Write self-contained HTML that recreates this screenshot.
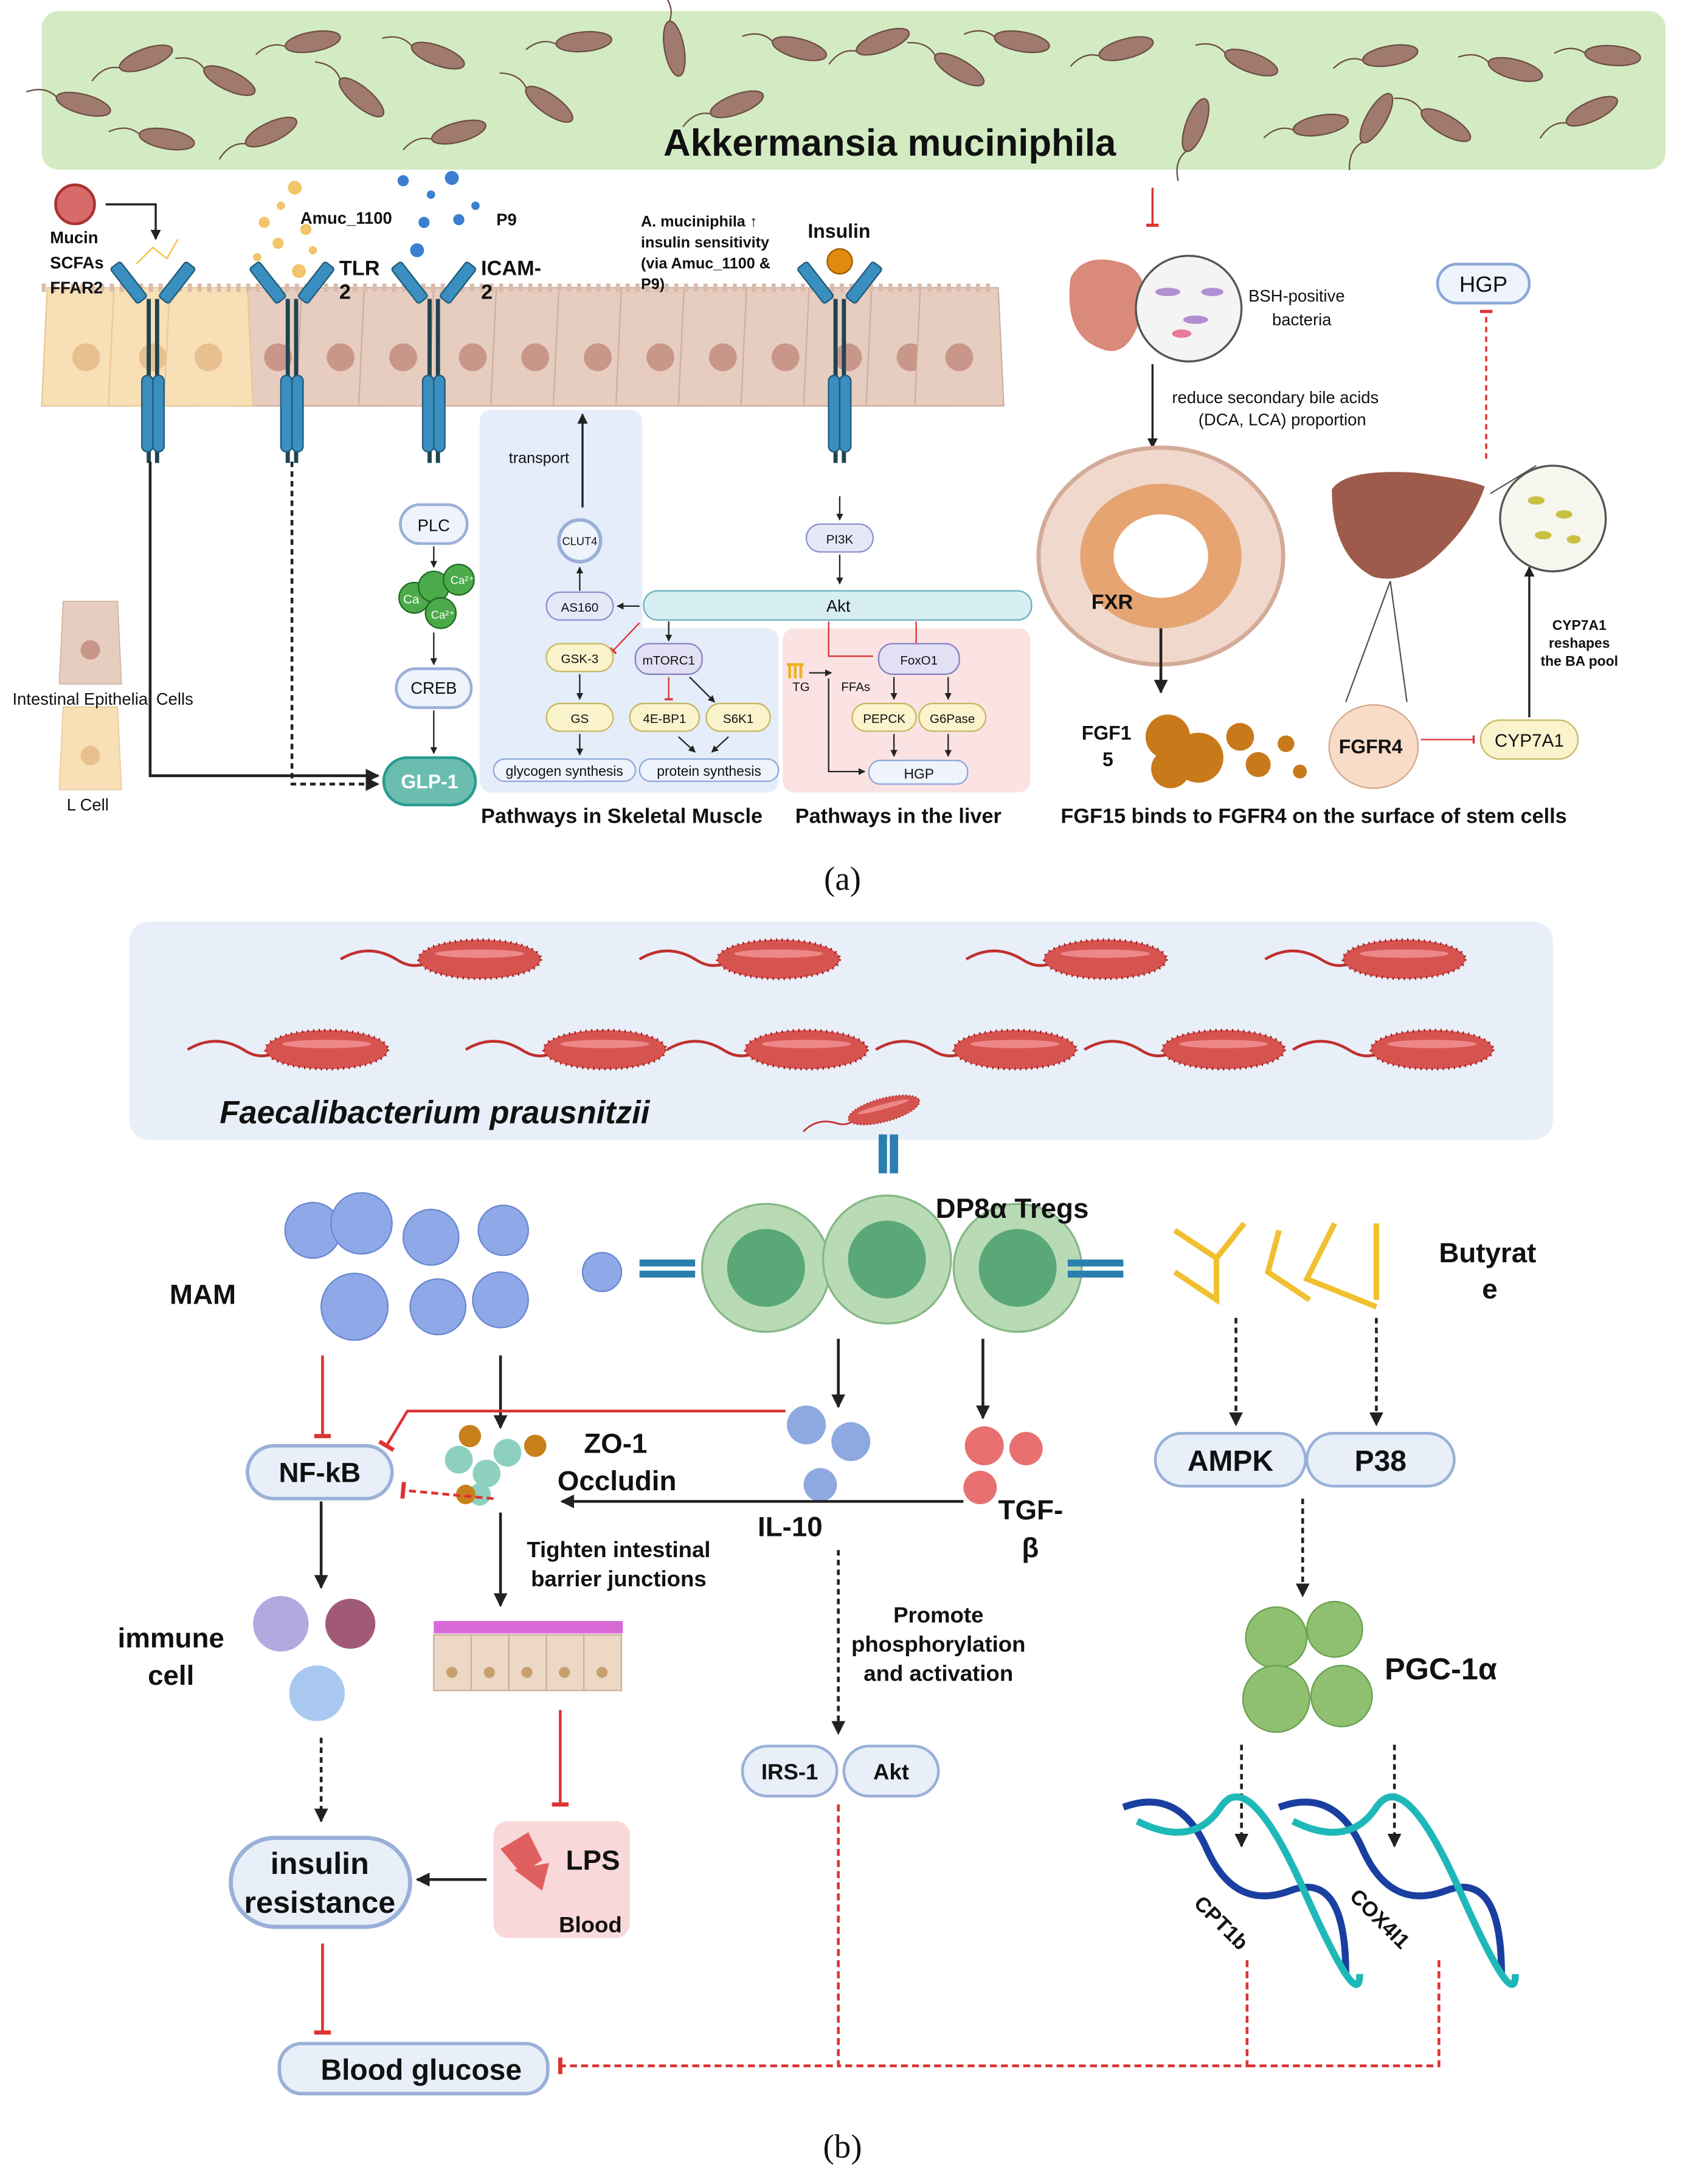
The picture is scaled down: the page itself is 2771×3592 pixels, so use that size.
<!DOCTYPE html>
<html><head><meta charset="utf-8"><style>
html,body{margin:0;padding:0;background:#fff}
svg{display:block}
text{font-family:"Liberation Sans",Arial,sans-serif;fill:#111}
.b{font-weight:bold}
</style></head><body>
<svg width="2771" height="3592" viewBox="0 0 1212 1571" preserveAspectRatio="none" xmlns="http://www.w3.org/2000/svg">
<defs>
<marker id="ar" viewBox="0 0 10 10" refX="9" refY="5" markerWidth="5" markerHeight="5" orient="auto"><path d="M0,0L10,5L0,10z" fill="#222"/></marker>
<marker id="tb" viewBox="0 0 10 10" refX="5" refY="5" markerWidth="6" markerHeight="6" orient="auto"><path d="M5,0V10" stroke="#d33" stroke-width="2.5"/></marker>
<g id="rec">
<rect x="-22" y="-18" width="9" height="32" rx="2" fill="#3a8fc0" stroke="#1f5a7a" stroke-width="1" transform="rotate(-38 -17 -2)"/>
<rect x="13" y="-18" width="9" height="32" rx="2" fill="#3a8fc0" stroke="#1f5a7a" stroke-width="1" transform="rotate(38 17 -2)"/>
<line x1="-3" y1="10" x2="-3" y2="128" stroke="#1f4550" stroke-width="3"/>
<line x1="3" y1="10" x2="3" y2="128" stroke="#1f4550" stroke-width="3"/>
<rect x="-8" y="65" width="8" height="55" rx="4" fill="#3a8fc0" stroke="#1f5a7a"/>
<rect x="0" y="65" width="8" height="55" rx="4" fill="#3a8fc0" stroke="#1f5a7a"/>
</g>
<g id="bac"><ellipse cx="0" cy="0" rx="20" ry="7" fill="#a07a6e" stroke="#6e4e44"/><path d="M-20,0 q-10,-6 -22,2" stroke="#6e4e44" fill="none"/></g>
<g id="rb"><path d="M-90,0 q20,-12 40,0 q15,10 28,-2" stroke="#c0302e" stroke-width="2" fill="none"/><ellipse cx="10" cy="0" rx="44" ry="14" fill="#d9534f" stroke="#a02020" stroke-width="2" stroke-dasharray="1 3"/><ellipse cx="10" cy="0" rx="42" ry="12" fill="#d65450"/><ellipse cx="10" cy="-4" rx="32" ry="3" fill="#e88"/></g>
<g id="cell"><path d="M-32,0 L-28,-85 L28,-85 L32,0 Z" fill="#e7cdbf" stroke="#cdb0a0"/><circle cx="0" cy="-35" r="10" fill="#c9968a"/></g>
<g id="cellY"><path d="M-32,0 L-28,-85 L28,-85 L32,0 Z" fill="#f8dfb6" stroke="#e8c898"/><circle cx="0" cy="-35" r="10" fill="#e8c090"/></g>
</defs>

<!-- ===== PART A ===== -->
<rect x="30" y="8" width="1168" height="114" rx="12" fill="#d3ebc3"/>
<g>
<use href="#bac" transform="translate(105,42) rotate(-20)"/><use href="#bac" transform="translate(165,58) rotate(25)"/><use href="#bac" transform="translate(225,30) rotate(-10)"/>
<use href="#bac" transform="translate(260,70) rotate(40)"/><use href="#bac" transform="translate(120,100) rotate(10)"/><use href="#bac" transform="translate(195,95) rotate(-25)"/>
<use href="#bac" transform="translate(315,40) rotate(20)"/><use href="#bac" transform="translate(330,95) rotate(-15)"/><use href="#bac" transform="translate(395,75) rotate(35)"/>
<use href="#bac" transform="translate(420,30) rotate(-5)"/><use href="#bac" transform="translate(485,35) rotate(80)"/><use href="#bac" transform="translate(530,75) rotate(-20)"/>
<use href="#bac" transform="translate(575,35) rotate(15)"/><use href="#bac" transform="translate(635,30) rotate(-20)"/><use href="#bac" transform="translate(690,50) rotate(30)"/>
<use href="#bac" transform="translate(735,30) rotate(10)"/><use href="#bac" transform="translate(810,35) rotate(-15)"/><use href="#bac" transform="translate(860,90) rotate(-70)"/>
<use href="#bac" transform="translate(900,45) rotate(20)"/><use href="#bac" transform="translate(950,90) rotate(-10)"/><use href="#bac" transform="translate(1000,40) rotate(-10)"/>
<use href="#bac" transform="translate(990,85) rotate(-60)"/><use href="#bac" transform="translate(1040,90) rotate(30)"/><use href="#bac" transform="translate(1090,50) rotate(15)"/>
<use href="#bac" transform="translate(1145,80) rotate(-25)"/><use href="#bac" transform="translate(1160,40) rotate(5)"/><use href="#bac" transform="translate(60,75) rotate(15)"/>
</g>
<text x="640" y="112" text-anchor="middle" class="b" font-size="27">Akkermansia muciniphila</text>

<!-- epithelium -->
<g>
<use href="#cell" transform="translate(200,292)"/><use href="#cell" transform="translate(245,292)"/><use href="#cell" transform="translate(290,292)"/><use href="#cell" transform="translate(340,292)"/><use href="#cell" transform="translate(385,292)"/><use href="#cell" transform="translate(430,292)"/><use href="#cell" transform="translate(475,292)"/><use href="#cell" transform="translate(520,292)"/><use href="#cell" transform="translate(565,292)"/><use href="#cell" transform="translate(610,292)"/><use href="#cell" transform="translate(655,292)"/><use href="#cell" transform="translate(690,292)"/>
<use href="#cellY" transform="translate(62,292)"/><use href="#cellY" transform="translate(110,292)"/><use href="#cellY" transform="translate(150,292)"/>
<path d="M30,207 H715" stroke="#d9bcaa" stroke-width="6" stroke-dasharray="3 4"/>
</g>
<use href="#rec" transform="translate(110,205)"/>
<use href="#rec" transform="translate(210,205)"/>
<use href="#rec" transform="translate(312,205)"/>
<use href="#rec" transform="translate(604,205)"/>
<circle cx="54" cy="147" r="14" fill="#d96a6a" stroke="#a33" stroke-width="2"/>
<path d="M76,147 H112 V172" stroke="#222" stroke-width="1.5" fill="none" marker-end="url(#ar)"/>
<text x="36" y="175" font-size="12" class="b">Mucin</text>
<text x="36" y="193" font-size="12" class="b">SCFAs</text>
<text x="36" y="211" font-size="12" class="b">FFAR2</text>
<path d="M98,190 l12,-12 l10,8 l8,-14" stroke="#f0c040" fill="none"/>
<g fill="#f2c56a"><circle cx="190" cy="160" r="4"/><circle cx="202" cy="148" r="3"/><circle cx="212" cy="135" r="5"/><circle cx="200" cy="175" r="4"/><circle cx="220" cy="165" r="4"/><circle cx="185" cy="185" r="3"/><circle cx="215" cy="195" r="5"/><circle cx="225" cy="180" r="3"/></g>
<g fill="#3a7fd0"><circle cx="290" cy="130" r="4"/><circle cx="310" cy="140" r="3"/><circle cx="325" cy="128" r="5"/><circle cx="305" cy="160" r="4"/><circle cx="330" cy="158" r="4"/><circle cx="300" cy="180" r="5"/><circle cx="342" cy="148" r="3"/></g>
<text x="216" y="161" font-size="12" class="b">Amuc_1100</text>
<text x="357" y="162" font-size="12" class="b">P9</text>
<text x="244" y="198" font-size="15" class="b">TLR</text><text x="244" y="215" font-size="15" class="b">2</text>
<text x="346" y="198" font-size="15" class="b">ICAM-</text><text x="346" y="215" font-size="15" class="b">2</text>
<text x="461" y="163" font-size="11" class="b">A.  muciniphila  ↑</text>
<text x="461" y="178" font-size="11" class="b">insulin  sensitivity</text>
<text x="461" y="193" font-size="11" class="b">(via Amuc_1100 &amp;</text>
<text x="461" y="208" font-size="11" class="b">P9)</text>
<text x="581" y="171" font-size="14" class="b">Insulin</text>
<circle cx="604" cy="188" r="9" fill="#e08a10" stroke="#a05a00"/>

<!-- left side cells legend -->
<use href="#cell" transform="translate(65,492) scale(0.7)"/>
<use href="#cellY" transform="translate(65,568) scale(0.7)"/>
<text x="9" y="507" font-size="12">Intestinal Epithelial Cells</text>
<text x="48" y="583" font-size="12">L Cell</text>

<path d="M108,332 V558 H272" stroke="#222" stroke-width="2" fill="none" marker-end="url(#ar)"/>
<path d="M210,332 V564 H272" stroke="#222" stroke-width="2" stroke-dasharray="4 3" fill="none" marker-end="url(#ar)"/>

<!-- PLC chain -->
<rect x="288" y="363" width="48" height="28" rx="14" fill="#eef3fc" stroke="#9ab0d8" stroke-width="2"/>
<text x="312" y="382" text-anchor="middle" font-size="12">PLC</text>
<line x1="312" y1="393" x2="312" y2="408" stroke="#222" marker-end="url(#ar)"/>
<g fill="#4caa4a" stroke="#1e6e20"><circle cx="298" cy="430" r="11"/><circle cx="312" cy="422" r="11"/><circle cx="330" cy="417" r="11"/><circle cx="317" cy="441" r="11"/></g>
<text x="290" y="434" font-size="9" fill="#fff" style="fill:#fff">Ca</text><text x="324" y="420" font-size="8" style="fill:#fff">Ca²⁺</text><text x="310" y="445" font-size="8" style="fill:#fff">Ca²⁺</text>
<line x1="312" y1="455" x2="312" y2="478" stroke="#222" marker-end="url(#ar)"/>
<rect x="285" y="481" width="54" height="28" rx="14" fill="#eef3fc" stroke="#9ab0d8" stroke-width="2"/>
<text x="312" y="499" text-anchor="middle" font-size="12">CREB</text>
<line x1="312" y1="511" x2="312" y2="542" stroke="#222" marker-end="url(#ar)"/>
<rect x="276" y="545" width="66" height="34" rx="17" fill="#6bbdb0" stroke="#2a9a90" stroke-width="2"/>
<text x="309" y="567" text-anchor="middle" font-size="14" class="b" style="fill:#fff">GLP-1</text>

<!-- muscle panel -->
<rect x="345" y="295" width="117" height="275" rx="8" fill="#e4edf9"/>
<rect x="345" y="452" width="215" height="118" rx="8" fill="#e4edf9"/>
<rect x="563" y="452" width="178" height="118" rx="8" fill="#fbe3e3"/>
<line x1="419" y1="365" x2="419" y2="298" stroke="#222" stroke-width="1.5" marker-end="url(#ar)"/>
<text x="366" y="333" font-size="11">transport</text>
<circle cx="417" cy="389" r="15" fill="#eef3fc" stroke="#9ab0d8" stroke-width="2.5"/>
<text x="417" y="392" text-anchor="middle" font-size="8">CLUT4</text>
<line x1="417" y1="425" x2="417" y2="408" stroke="#222" marker-end="url(#ar)"/>
<rect x="393" y="426" width="48" height="20" rx="10" fill="#e6e8f8" stroke="#8c90d0"/>
<text x="417" y="440" text-anchor="middle" font-size="9">AS160</text>
<line x1="460" y1="436" x2="444" y2="436" stroke="#222" marker-end="url(#ar)"/>
<rect x="463" y="425" width="279" height="21" rx="10" fill="#d6eef2" stroke="#6ab0c0"/>
<text x="603" y="440" text-anchor="middle" font-size="12">Akt</text>
<rect x="580" y="377" width="48" height="20" rx="10" fill="#e6e8f8" stroke="#8c90d0"/>
<text x="604" y="391" text-anchor="middle" font-size="9">PI3K</text>
<line x1="604" y1="357" x2="604" y2="374" stroke="#222" marker-end="url(#ar)"/>
<line x1="604" y1="399" x2="604" y2="420" stroke="#222" marker-end="url(#ar)"/>
<path d="M460,448 L441,468" stroke="#d33" marker-end="url(#tb)"/>
<rect x="393" y="463" width="48" height="20" rx="10" fill="#faf3cc" stroke="#c8b860"/><text x="417" y="477" text-anchor="middle" font-size="9">GSK-3</text>
<line x1="417" y1="485" x2="417" y2="503" stroke="#222" marker-end="url(#ar)"/>
<rect x="393" y="506" width="48" height="20" rx="10" fill="#faf3cc" stroke="#c8b860"/><text x="417" y="520" text-anchor="middle" font-size="9">GS</text>
<line x1="417" y1="528" x2="417" y2="543" stroke="#222" marker-end="url(#ar)"/>
<rect x="355" y="546" width="102" height="16" rx="8" fill="#eef3fc" stroke="#8ca8d8"/><text x="406" y="558" text-anchor="middle" font-size="10">glycogen synthesis</text>
<line x1="481" y1="447" x2="481" y2="461" stroke="#222" marker-end="url(#ar)"/>
<rect x="457" y="463" width="48" height="22" rx="10" fill="#e2e0f4" stroke="#8880c0"/><text x="481" y="478" text-anchor="middle" font-size="9">mTORC1</text>
<line x1="481" y1="487" x2="481" y2="503" stroke="#d33" marker-end="url(#tb)"/>
<line x1="496" y1="487" x2="514" y2="505" stroke="#222" marker-end="url(#ar)"/>
<rect x="453" y="506" width="50" height="20" rx="10" fill="#faf3cc" stroke="#c8b860"/><text x="478" y="520" text-anchor="middle" font-size="9">4E-BP1</text>
<rect x="508" y="506" width="46" height="20" rx="10" fill="#faf3cc" stroke="#c8b860"/><text x="531" y="520" text-anchor="middle" font-size="9">S6K1</text>
<line x1="488" y1="530" x2="500" y2="541" stroke="#222" marker-end="url(#ar)"/><line x1="524" y1="530" x2="512" y2="541" stroke="#222" marker-end="url(#ar)"/>
<rect x="460" y="546" width="100" height="16" rx="8" fill="#eef3fc" stroke="#8ca8d8"/><text x="510" y="558" text-anchor="middle" font-size="10">protein synthesis</text>
<path d="M596,447 V472 H628" stroke="#d33" fill="none"/><path d="M659,447 V466" stroke="#d33" marker-end="url(#tb)"/>
<rect x="632" y="463" width="58" height="22" rx="10" fill="#e2e0f4" stroke="#8880c0"/><text x="661" y="478" text-anchor="middle" font-size="9">FoxO1</text>
<text x="570" y="497" font-size="9">TG</text><text x="605" y="497" font-size="9">FFAs</text>
<path d="M566,478 h12 M568,478 v10 M572,478 v10 M576,478 v10" stroke="#f0b020" stroke-width="2"/>
<line x1="582" y1="484" x2="598" y2="484" stroke="#222" marker-end="url(#ar)"/>
<line x1="643" y1="487" x2="643" y2="503" stroke="#222" marker-end="url(#ar)"/><line x1="682" y1="487" x2="682" y2="503" stroke="#222" marker-end="url(#ar)"/>
<rect x="613" y="506" width="46" height="20" rx="10" fill="#faf3cc" stroke="#c8b860"/><text x="636" y="520" text-anchor="middle" font-size="9">PEPCK</text>
<rect x="661" y="506" width="48" height="20" rx="10" fill="#faf3cc" stroke="#c8b860"/><text x="685" y="520" text-anchor="middle" font-size="9">G6Pase</text>
<path d="M596,488 V555 H622" stroke="#222" fill="none" marker-end="url(#ar)"/>
<line x1="643" y1="528" x2="643" y2="544" stroke="#222" marker-end="url(#ar)"/><line x1="682" y1="528" x2="682" y2="544" stroke="#222" marker-end="url(#ar)"/>
<rect x="625" y="547" width="71" height="17" rx="8" fill="#eef3fc" stroke="#8ca8d8"/><text x="661" y="560" text-anchor="middle" font-size="10">HGP</text>
<text x="346" y="592" font-size="15" class="b">Pathways in Skeletal Muscle</text>
<text x="572" y="592" font-size="15" class="b">Pathways in the liver</text>

<!-- right part a -->
<line x1="829" y1="135" x2="829" y2="162" stroke="#d33" stroke-width="1.5" marker-end="url(#tb)"/>
<path d="M770,200 q10,-20 40,-10 q20,10 10,40 q-10,30 -30,20 q-25,-10 -20,-50z" fill="#d98a7a"/>
<circle cx="855" cy="222" r="38" fill="#f4f4f4" stroke="#555" stroke-width="1.5"/>
<g fill="#b090d0"><ellipse cx="840" cy="210" rx="9" ry="3"/><ellipse cx="860" cy="230" rx="9" ry="3"/><ellipse cx="850" cy="240" rx="7" ry="3" fill="#e87a9a"/><ellipse cx="872" cy="210" rx="8" ry="3"/></g>
<text x="898" y="217" font-size="12">BSH-positive</text><text x="915" y="234" font-size="12">bacteria</text>
<line x1="829" y1="262" x2="829" y2="322" stroke="#222" stroke-width="1.5" marker-end="url(#ar)"/>
<text x="843" y="290" font-size="12">reduce secondary bile acids</text><text x="862" y="306" font-size="12">(DCA, LCA) proportion</text>
<ellipse cx="835" cy="400" rx="88" ry="78" fill="#f0d8cc" stroke="#d4aa98" stroke-width="3"/>
<ellipse cx="835" cy="400" rx="58" ry="52" fill="#e5a472"/>
<ellipse cx="835" cy="400" rx="34" ry="30" fill="#fff"/>
<text x="785" y="438" font-size="15" class="b">FXR</text>
<line x1="835" y1="452" x2="835" y2="498" stroke="#222" stroke-width="2" marker-end="url(#ar)"/>
<text x="778" y="532" font-size="14" class="b">FGF1</text><text x="793" y="551" font-size="14" class="b">5</text>
<g fill="#c87a1a"><circle cx="840" cy="530" r="16"/><circle cx="862" cy="545" r="18"/><circle cx="842" cy="553" r="14"/><circle cx="892" cy="530" r="10"/><circle cx="905" cy="550" r="9"/><circle cx="925" cy="535" r="6"/><circle cx="935" cy="555" r="5"/></g>
<ellipse cx="988" cy="537" rx="32" ry="30" fill="#f8dcc8" stroke="#d4a88c"/>
<text x="963" y="542" font-size="14" class="b">FGFR4</text>
<path d="M1022,532 H1060" stroke="#d33" marker-end="url(#tb)"/>
<rect x="1065" y="518" width="70" height="28" rx="14" fill="#faf3cc" stroke="#c8b860"/><text x="1100" y="537" text-anchor="middle" font-size="13">CYP7A1</text>
<line x1="1100" y1="516" x2="1100" y2="408" stroke="#222" stroke-width="1.5" marker-end="url(#ar)"/>
<text x="1136" y="453" text-anchor="middle" font-size="10" class="b">CYP7A1</text><text x="1136" y="466" text-anchor="middle" font-size="10" class="b">reshapes</text><text x="1136" y="479" text-anchor="middle" font-size="10" class="b">the BA pool</text>
<path d="M958,352 q10,-15 60,-12 q40,5 50,10 q-10,30 -40,55 q-20,15 -40,10 q-30,-15 -30,-63z" fill="#9e5a4a"/>
<line x1="1000" y1="418" x2="968" y2="505" stroke="#555"/><line x1="1000" y1="418" x2="1012" y2="505" stroke="#555"/>
<circle cx="1117" cy="373" r="38" fill="#f6f6ee" stroke="#555" stroke-width="1.5"/>
<g fill="#c8c040"><ellipse cx="1105" cy="360" rx="6" ry="3"/><ellipse cx="1125" cy="370" rx="6" ry="3"/><ellipse cx="1110" cy="385" rx="6" ry="3"/><ellipse cx="1132" cy="388" rx="5" ry="3"/></g>
<line x1="1072" y1="355" x2="1105" y2="335" stroke="#555"/>
<rect x="1034" y="190" width="66" height="28" rx="14" fill="#eef3fc" stroke="#8ca8d8" stroke-width="2"/>
<text x="1067" y="210" text-anchor="middle" font-size="16">HGP</text>
<line x1="1069" y1="330" x2="1069" y2="224" stroke="#d33" stroke-width="1.5" stroke-dasharray="4 3" marker-end="url(#tb)"/>
<text x="945" y="592" text-anchor="middle" font-size="15" class="b">FGF15 binds to FGFR4 on the surface of stem cells</text>
<text x="606" y="640" text-anchor="middle" font-size="24" font-family="Liberation Serif" style="font-family:'Liberation Serif',serif">(a)</text>

<!-- ===== PART B ===== -->
<rect x="93" y="663" width="1024" height="157" rx="14" fill="#e8eff9"/>
<use href="#rb" transform="translate(335,690)"/><use href="#rb" transform="translate(550,690)"/><use href="#rb" transform="translate(785,690)"/><use href="#rb" transform="translate(1000,690)"/>
<use href="#rb" transform="translate(225,755)"/><use href="#rb" transform="translate(425,755)"/><use href="#rb" transform="translate(570,755)"/><use href="#rb" transform="translate(720,755)"/><use href="#rb" transform="translate(870,755)"/><use href="#rb" transform="translate(1020,755)"/>
<use href="#rb" transform="translate(630,800) scale(0.6) rotate(-15)"/>
<text x="158" y="808" font-size="23" class="b" font-style="italic">Faecalibacterium prausnitzii</text>
<rect x="632" y="816" width="6" height="28" fill="#2a7fb0"/><rect x="640" y="816" width="6" height="28" fill="#2a7fb0"/>

<circle cx="551" cy="912" r="46" fill="#b8dbb6" stroke="#88b888" stroke-width="1.5"/><circle cx="551" cy="912" r="28" fill="#5aa877"/>
<circle cx="638" cy="906" r="46" fill="#b8dbb6" stroke="#88b888" stroke-width="1.5"/><circle cx="638" cy="906" r="28" fill="#5aa877"/>
<circle cx="732" cy="912" r="46" fill="#b8dbb6" stroke="#88b888" stroke-width="1.5"/><circle cx="732" cy="912" r="28" fill="#5aa877"/>
<text x="673" y="876" font-size="20" class="b">DP8α Tregs</text>
<g fill="#2a7fb0"><rect x="460" y="906" width="40" height="5"/><rect x="460" y="914" width="40" height="5"/><rect x="768" y="906" width="40" height="5"/><rect x="768" y="914" width="40" height="5"/></g>
<g fill="#8ea8e8" stroke="#6a88d0"><circle cx="225" cy="885" r="20"/><circle cx="260" cy="880" r="22"/><circle cx="310" cy="890" r="20"/><circle cx="362" cy="885" r="18"/><circle cx="255" cy="940" r="24"/><circle cx="315" cy="940" r="20"/><circle cx="360" cy="935" r="20"/><circle cx="433" cy="915" r="14"/></g>
<text x="122" y="938" font-size="20" class="b">MAM</text>
<g stroke="#f0c030" stroke-width="4" fill="none"><path d="M845,885 l30,20 l20,-25 M875,905 l0,30 l-30,-20"/><path d="M920,885 l-8,30 l30,20 M960,880 l-20,40 l50,20 M990,880 l0,55"/></g>
<text x="1035" y="908" font-size="20" class="b">Butyrat</text><text x="1066" y="934" font-size="20" class="b">e</text>

<line x1="232" y1="975" x2="232" y2="1033" stroke="#d33" stroke-width="2" marker-end="url(#tb)"/>
<line x1="360" y1="975" x2="360" y2="1027" stroke="#222" stroke-width="2" marker-end="url(#ar)"/>
<path d="M565,1015 H293 L278,1040" stroke="#d33" stroke-width="2" fill="none" marker-end="url(#tb)"/>
<rect x="178" y="1040" width="104" height="38" rx="19" fill="#e8eff9" stroke="#9ab0d8" stroke-width="2.5"/>
<text x="230" y="1066" text-anchor="middle" font-size="20" class="b">NF-kB</text>
<g fill="#8ed0c0"><circle cx="330" cy="1050" r="10"/><circle cx="350" cy="1060" r="10"/><circle cx="365" cy="1045" r="10"/><circle cx="345" cy="1075" r="8"/></g>
<g fill="#c8801a"><circle cx="338" cy="1033" r="8"/><circle cx="385" cy="1040" r="8"/><circle cx="335" cy="1075" r="7"/></g>
<text x="420" y="1045" font-size="20" class="b">ZO-1</text><text x="401" y="1072" font-size="20" class="b">Occludin</text>
<line x1="603" y1="963" x2="603" y2="1012" stroke="#222" stroke-width="2" marker-end="url(#ar)"/>
<line x1="707" y1="963" x2="707" y2="1020" stroke="#222" stroke-width="2" marker-end="url(#ar)"/>
<g fill="#8ea8e0"><circle cx="580" cy="1025" r="14"/><circle cx="612" cy="1037" r="14"/><circle cx="590" cy="1068" r="12"/></g>
<g fill="#e87070"><circle cx="708" cy="1040" r="14"/><circle cx="738" cy="1042" r="12"/><circle cx="705" cy="1070" r="12"/></g>
<line x1="693" y1="1080" x2="404" y2="1080" stroke="#222" stroke-width="2" marker-end="url(#ar)"/>
<text x="545" y="1105" font-size="20" class="b">IL-10</text>
<text x="718" y="1093" font-size="20" class="b">TGF-</text><text x="735" y="1120" font-size="20" class="b">β</text>
<text x="445" y="1120" text-anchor="middle" font-size="16" class="b">Tighten intestinal</text><text x="445" y="1141" text-anchor="middle" font-size="16" class="b">barrier junctions</text>
<line x1="360" y1="1088" x2="360" y2="1155" stroke="#222" stroke-width="2" marker-end="url(#ar)"/>
<path d="M355,1078 L290,1072" stroke="#d33" stroke-width="2" stroke-dasharray="5 3" marker-end="url(#tb)"/>
<rect x="312" y="1166" width="136" height="9" fill="#d86ad8"/>
<g fill="#ecd8c4" stroke="#cdb098"><rect x="312" y="1176" width="27" height="40"/><rect x="339" y="1176" width="27" height="40"/><rect x="366" y="1176" width="27" height="40"/><rect x="393" y="1176" width="27" height="40"/><rect x="420" y="1176" width="27" height="40"/></g>
<g fill="#c8a070"><circle cx="325" cy="1203" r="4"/><circle cx="352" cy="1203" r="4"/><circle cx="379" cy="1203" r="4"/><circle cx="406" cy="1203" r="4"/><circle cx="433" cy="1203" r="4"/></g>
<line x1="231" y1="1080" x2="231" y2="1142" stroke="#222" stroke-width="2" marker-end="url(#ar)"/>
<circle cx="202" cy="1168" r="20" fill="#b4a8e0"/><circle cx="252" cy="1168" r="18" fill="#a05a78"/><circle cx="228" cy="1218" r="20" fill="#a8c8f0"/>
<text x="123" y="1185" text-anchor="middle" font-size="20" class="b">immune</text><text x="123" y="1212" text-anchor="middle" font-size="20" class="b">cell</text>
<line x1="231" y1="1250" x2="231" y2="1310" stroke="#222" stroke-width="2" stroke-dasharray="4 3" marker-end="url(#ar)"/>
<line x1="603" y1="1115" x2="603" y2="1247" stroke="#222" stroke-width="2" stroke-dasharray="4 3" marker-end="url(#ar)"/>
<text x="675" y="1167" text-anchor="middle" font-size="16" class="b">Promote</text><text x="675" y="1188" text-anchor="middle" font-size="16" class="b">phosphorylation</text><text x="675" y="1209" text-anchor="middle" font-size="16" class="b">and activation</text>
<rect x="534" y="1256" width="68" height="36" rx="18" fill="#e8eff9" stroke="#9ab0d8" stroke-width="2"/><text x="568" y="1280" text-anchor="middle" font-size="16" class="b">IRS-1</text>
<rect x="607" y="1256" width="68" height="36" rx="18" fill="#e8eff9" stroke="#9ab0d8" stroke-width="2"/><text x="641" y="1280" text-anchor="middle" font-size="16" class="b">Akt</text>
<line x1="403" y1="1230" x2="403" y2="1298" stroke="#d33" stroke-width="2" marker-end="url(#tb)"/>
<rect x="355" y="1310" width="98" height="84" rx="10" fill="#f8d8d8"/>
<g fill="#e06060"><path d="M360,1330 l20,-12 l10,20 l-15,10z"/><path d="M370,1345 l25,-5 l-5,20z"/></g>
<text x="407" y="1345" font-size="20" class="b">LPS</text><text x="402" y="1390" font-size="16" class="b">Blood</text>
<line x1="350" y1="1352" x2="300" y2="1352" stroke="#222" stroke-width="2" marker-end="url(#ar)"/>
<rect x="166" y="1322" width="129" height="64" rx="32" fill="#e8eff9" stroke="#9ab0d8" stroke-width="3"/>
<text x="230" y="1348" text-anchor="middle" font-size="22" class="b">insulin</text><text x="230" y="1376" text-anchor="middle" font-size="22" class="b">resistance</text>
<line x1="232" y1="1398" x2="232" y2="1462" stroke="#d33" stroke-width="2" marker-end="url(#tb)"/>
<rect x="201" y="1470" width="193" height="36" rx="16" fill="#e8eff9" stroke="#9ab0d8" stroke-width="2.5"/>
<text x="303" y="1496" text-anchor="middle" font-size="21" class="b">Blood glucose</text>
<path d="M603,1298 V1486 H403" stroke="#d33" stroke-width="2" stroke-dasharray="5 3" fill="none" marker-end="url(#tb)"/>
<path d="M897,1410 V1486 H603 M1035,1410 V1486 H897" stroke="#d33" stroke-width="2" stroke-dasharray="5 3" fill="none"/>

<line x1="889" y1="948" x2="889" y2="1025" stroke="#222" stroke-width="2" stroke-dasharray="4 3" marker-end="url(#ar)"/>
<line x1="990" y1="948" x2="990" y2="1025" stroke="#222" stroke-width="2" stroke-dasharray="4 3" marker-end="url(#ar)"/>
<rect x="831" y="1031" width="108" height="38" rx="19" fill="#e8eff9" stroke="#9ab0d8" stroke-width="2"/><text x="885" y="1058" text-anchor="middle" font-size="21" class="b">AMPK</text>
<rect x="940" y="1031" width="106" height="38" rx="19" fill="#e8eff9" stroke="#9ab0d8" stroke-width="2"/><text x="993" y="1058" text-anchor="middle" font-size="21" class="b">P38</text>
<line x1="937" y1="1078" x2="937" y2="1148" stroke="#222" stroke-width="2" stroke-dasharray="4 3" marker-end="url(#ar)"/>
<g fill="#8ec070" stroke="#6aa050"><circle cx="918" cy="1178" r="22"/><circle cx="960" cy="1172" r="20"/><circle cx="918" cy="1222" r="24"/><circle cx="965" cy="1220" r="22"/></g>
<text x="996" y="1208" font-size="22" class="b">PGC-1α</text>
<line x1="893" y1="1255" x2="893" y2="1328" stroke="#222" stroke-width="2" stroke-dasharray="4 3" marker-end="url(#ar)"/>
<line x1="1003" y1="1255" x2="1003" y2="1328" stroke="#222" stroke-width="2" stroke-dasharray="4 3" marker-end="url(#ar)"/>
<g fill="none" stroke-width="5"><path d="M808,1300 q40,-15 60,30 t60,30 t40,60" stroke="#1a3fa0"/><path d="M818,1310 q40,20 60,-10 t60,60 t40,60" stroke="#1fb8b8"/>
<path d="M920,1300 q40,-15 60,30 t60,30 t40,60" stroke="#1a3fa0"/><path d="M930,1310 q40,20 60,-10 t60,60 t40,60" stroke="#1fb8b8"/></g>
<text x="858" y="1370" font-size="15" class="b" transform="rotate(45 858 1370)">CPT1b</text>
<text x="970" y="1365" font-size="15" class="b" transform="rotate(45 970 1365)">COX4I1</text>
<text x="606" y="1552" text-anchor="middle" font-size="24" style="font-family:'Liberation Serif',serif">(b)</text>
</svg>
</body></html>
